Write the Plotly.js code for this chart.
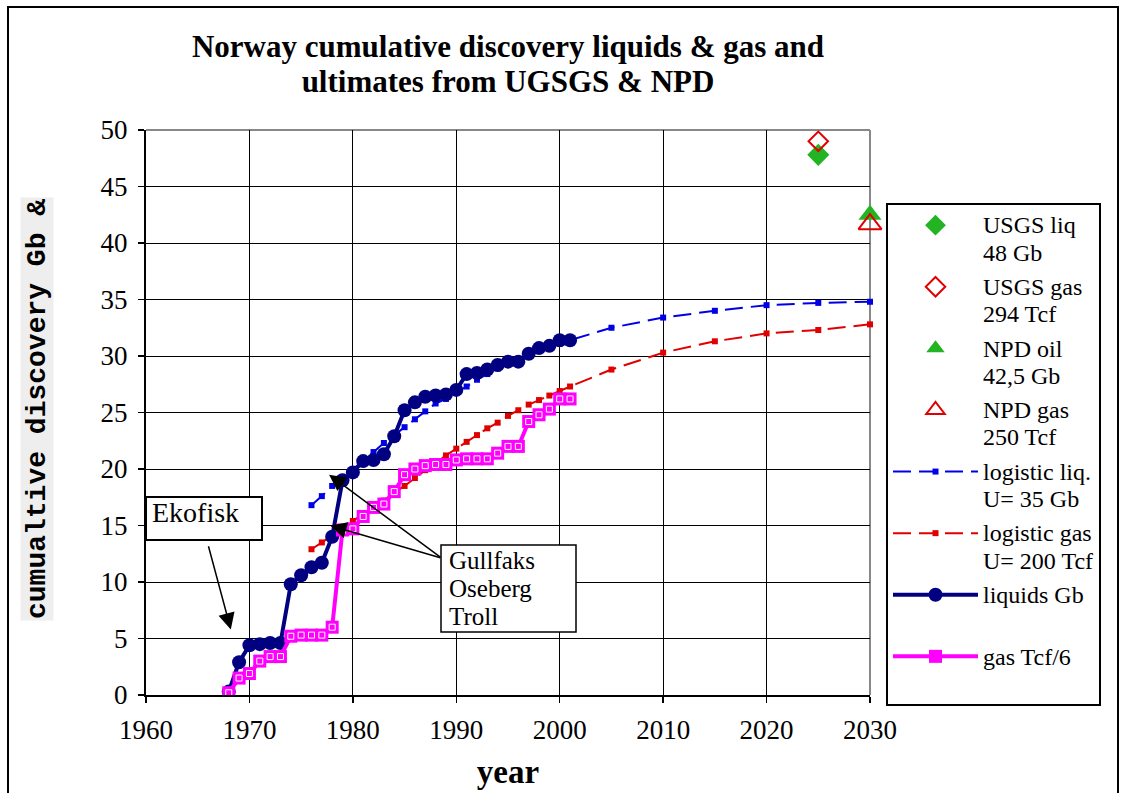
<!DOCTYPE html>
<html><head><meta charset="utf-8">
<script src="https://cdn.plot.ly/plotly-3.0.1.min.js"></script>
<style>
html,body{margin:0;padding:0;background:#fff;}
#chart{width:1122px;height:793px;}
#frame{position:absolute;left:7px;top:6px;width:1108px;height:800px;border:2px solid #000;pointer-events:none;}
</style>
</head><body>
<div id="chart"></div><div id="frame"></div>
<script>
// ---- data ----
const years = [1968,1969,1970,1971,1972,1973,1974,1975,1976,1977,1978,1979,1980,1981,1982,1983,1984,1985,1986,1987,1988,1989,1990,1991,1992,1993,1994,1995,1996,1997,1998,1999,2000,2001];
const liquidsGb = [0.3,2.9,4.4,4.5,4.6,4.6,9.8,10.6,11.3,11.7,14.0,19.0,19.7,20.7,20.8,21.3,22.9,25.2,25.9,26.4,26.5,26.6,27.0,28.4,28.5,28.8,29.2,29.5,29.5,30.2,30.7,30.9,31.4,31.4];
const gasTcf6 = [0.2,1.5,1.9,3.0,3.4,3.4,5.2,5.3,5.3,5.3,6.0,14.6,14.7,15.8,16.6,16.9,18.0,19.5,20.0,20.3,20.4,20.4,20.8,20.9,20.9,20.9,21.4,22.0,22.0,24.2,24.8,25.3,26.2,26.2];
const logYears = [1976,1977,1978,1979,1980,1981,1982,1983,1984,1985,1986,1987,1988,1989,1990,1991,1992,1993,1994,1995,1996,1997,1998,1999,2000,2001,2005,2010,2015,2020,2025,2030];
const logisticLiq = [16.8,17.6,18.5,19.3,20.0,20.7,21.5,22.3,23.0,23.7,24.4,25.1,25.8,26.2,26.8,27.3,27.9,28.4,28.9,29.3,29.7,30.1,30.5,30.8,31.1,31.4,32.5,33.4,34.0,34.5,34.7,34.8];
const logisticGas = [12.9,13.5,14.1,14.7,15.4,16.0,16.6,17.2,17.9,18.5,19.2,19.9,20.5,21.2,21.8,22.4,23.0,23.6,24.1,24.7,25.2,25.7,26.1,26.5,26.9,27.3,28.8,30.3,31.3,32.0,32.3,32.8];
const usgsLiqYear = [2025], usgsLiq = [47.8];
const usgsGasYear = [2025], usgsGas = [49.0];
const npdOilYear = [2030], npdOil = [42.5];
const npdGasYear = [2030], npdGas = [41.67];
const xTicks = [1960,1970,1980,1990,2000,2010,2020,2030];
const yTicks = [0,5,10,15,20,25,30,35,40,45,50];
const legendNames = [['USGS liq','48 Gb'],['USGS gas','294 Tcf'],['NPD oil','42,5 Gb'],['NPD gas','250 Tcf'],
  ['logistic liq.','U= 35 Gb'],['logistic gas','U= 200 Tcf'],['liquids Gb','&nbsp;'],['gas Tcf/6','&nbsp;']];

const serif = '"Liberation Serif","Times New Roman",serif';
function big(lines, size, bold){
  return lines.map(l => (bold?'<b>':'') + '<span style="font-size:'+size+'px">'+l+'</span>' + (bold?'</b>':'')).join('<br>');
}
const LG = 24;
const traces = [
  {x:usgsLiqYear, y:usgsLiq, name:big(legendNames[0],LG), legendgroup:'a', mode:'markers', cliponaxis:false,
   marker:{symbol:'diamond', size:17, color:'#22b422'}},
  {x:usgsGasYear, y:usgsGas, name:big(legendNames[1],LG), legendgroup:'b', mode:'markers', cliponaxis:false,
   marker:{symbol:'diamond-open', size:15, color:'#e00000', line:{width:2, color:'#e00000'}}},
  {x:npdOilYear, y:npdOil, name:big(legendNames[2],LG), legendgroup:'c', mode:'markers', cliponaxis:false,
   marker:{symbol:'triangle-up', size:20, color:'#22b422'}},
  {x:npdGasYear, y:npdGas, name:big(legendNames[3],LG), legendgroup:'d', mode:'markers', cliponaxis:false,
   marker:{symbol:'triangle-up-open', size:20, color:'#e00000', line:{width:2, color:'#e00000'}}},
  {x:logYears, y:logisticLiq, name:big(legendNames[4],LG), legendgroup:'e', mode:'lines+markers', cliponaxis:false,
   line:{color:'#0000e6', width:2, dash:'18px,8px'}, marker:{symbol:'square', size:6, color:'#0000e6'}},
  {x:logYears, y:logisticGas, name:big(legendNames[5],LG), legendgroup:'f', mode:'lines+markers', cliponaxis:false,
   line:{color:'#e00000', width:2, dash:'18px,8px'}, marker:{symbol:'square', size:6, color:'#e00000'}},
  {x:years, y:liquidsGb, name:big(legendNames[6],LG), legendgroup:'g', mode:'lines+markers',
   line:{color:'#000080', width:4}, marker:{symbol:'circle', size:14, color:'#000080'}},
  {x:years, y:gasTcf6, name:big(legendNames[7],LG), legendgroup:'h', mode:'lines+markers',
   line:{color:'#ff00ff', width:4}, marker:{symbol:'square', size:13, color:'#ff00ff'}},
  {x:years, y:gasTcf6, showlegend:false, hoverinfo:'skip', mode:'markers',
   marker:{symbol:'square-open', size:6, color:'#ffffff', line:{width:1, color:'#ffffff'}}}
];

function px2x(p){return (p-146)/724;}
function py2y(p){return (695-p)/565;}

const layout = {
  width:1122, height:793,
  margin:{l:146, r:252, t:130, b:98, pad:0},
  paper_bgcolor:'#fff', plot_bgcolor:'#fff',
  font:{family:serif, color:'#000', size:22},
  showlegend:true,
  title:{text:big(['Norway cumulative discovery liquids & gas and','ultimates from UGSGS & NPD'],31,true),
    font:{family:serif, size:27, color:'#000'}, xref:'paper', x:0.5, xanchor:'center',
    yref:'container', y:1-57/793, yanchor:'middle'},
  xaxis:{range:[1960,2030], tickvals:xTicks, showgrid:true, gridcolor:'#000', gridwidth:1,
    showline:true, linecolor:'#000', linewidth:2, ticks:'outside', ticklen:6, tickwidth:1.5, tickcolor:'#000',
    zeroline:false, tickfont:{size:27, family:serif}, ticklabelstandoff:4, automargin:false,
    title:{text:'<b>year</b>', font:{size:33, family:serif}, standoff:15}},
  yaxis:{range:[0,50], tickvals:yTicks, showgrid:true, gridcolor:'#000', gridwidth:1,
    showline:true, linecolor:'#000', linewidth:2, ticks:'outside', ticklen:6, tickwidth:1.5, tickcolor:'#000',
    zeroline:false, tickfont:{size:27, family:serif}, ticklabelstandoff:5, automargin:false},
  legend:{x:px2x(886), xanchor:'left', y:py2y(203), yanchor:'top', bordercolor:'#000', borderwidth:2,
    bgcolor:'#fff', font:{size:21, family:serif}, itemwidth:85, valign:'top',
    traceorder:'grouped', tracegroupgap:4},
  shapes:[
    {type:'line', xref:'paper', yref:'paper', x0:0, x1:1, y0:1, y1:1, line:{color:'#888', width:2}, layer:'between'},
    {type:'line', xref:'paper', yref:'paper', x0:1, x1:1, y0:0, y1:1, line:{color:'#888', width:2}, layer:'between'},
    {type:'rect', xref:'paper', yref:'paper', x0:px2x(146), x1:px2x(262), y0:py2y(540), y1:py2y(497),
      line:{color:'#000', width:2}, fillcolor:'#fff', layer:'above'},
    {type:'rect', xref:'paper', yref:'paper', x0:px2x(441), x1:px2x(576), y0:py2y(632), y1:py2y(545),
      line:{color:'#000', width:1.5}, fillcolor:'#fff', layer:'above'}
  ],
  annotations:[
    {text:'Ekofisk', xref:'paper', yref:'paper', x:px2x(150), y:py2y(512), xanchor:'left', yanchor:'middle',
      showarrow:false, font:{size:28, family:serif}},
    {text:big(['Gullfaks','Oseberg','Troll'],25,false), xref:'paper', yref:'paper', x:px2x(447), y:py2y(588), xanchor:'left', yanchor:'middle',
      align:'left', showarrow:false, font:{size:21.5, family:serif}},
    {text:'', x:1968.2, y:5.8, ax:1966.0, ay:13.3, axref:'x', ayref:'y', xref:'x', yref:'y',
      showarrow:true, arrowhead:2, arrowsize:2.2, arrowwidth:1.5, arrowcolor:'#000', standoff:0},
    {text:'', x:1977.7, y:19.5, ax:1988.6, ay:12.1, axref:'x', ayref:'y', xref:'x', yref:'y',
      showarrow:true, arrowhead:2, arrowsize:2.2, arrowwidth:1.5, arrowcolor:'#000', standoff:0},
    {text:'', x:1977.8, y:15.0, ax:1988.6, ay:12.1, axref:'x', ayref:'y', xref:'x', yref:'y',
      showarrow:true, arrowhead:2, arrowsize:2.2, arrowwidth:1.5, arrowcolor:'#000', standoff:0},
    {text:'<b>cumualtive discovery Gb &<br>Tcf/6</b>', xref:'paper', yref:'paper', x:px2x(55), y:py2y(409),
      xanchor:'center', yanchor:'middle', textangle:-90, showarrow:false, bgcolor:'#eeeeee', borderpad:1,
      font:{size:28, family:'"Liberation Mono","DejaVu Sans Mono",monospace', color:'#000'}},
    {text:' ', xref:'paper', yref:'paper', x:px2x(53), y:py2y(409), xanchor:'left', yanchor:'middle',
      width:38, height:460, showarrow:false, bgcolor:'#ffffff', borderpad:0}
  ]
};

Plotly.newPlot('chart', traces, layout, {displayModeBar:false, staticPlot:true});
</script>
</body></html>
